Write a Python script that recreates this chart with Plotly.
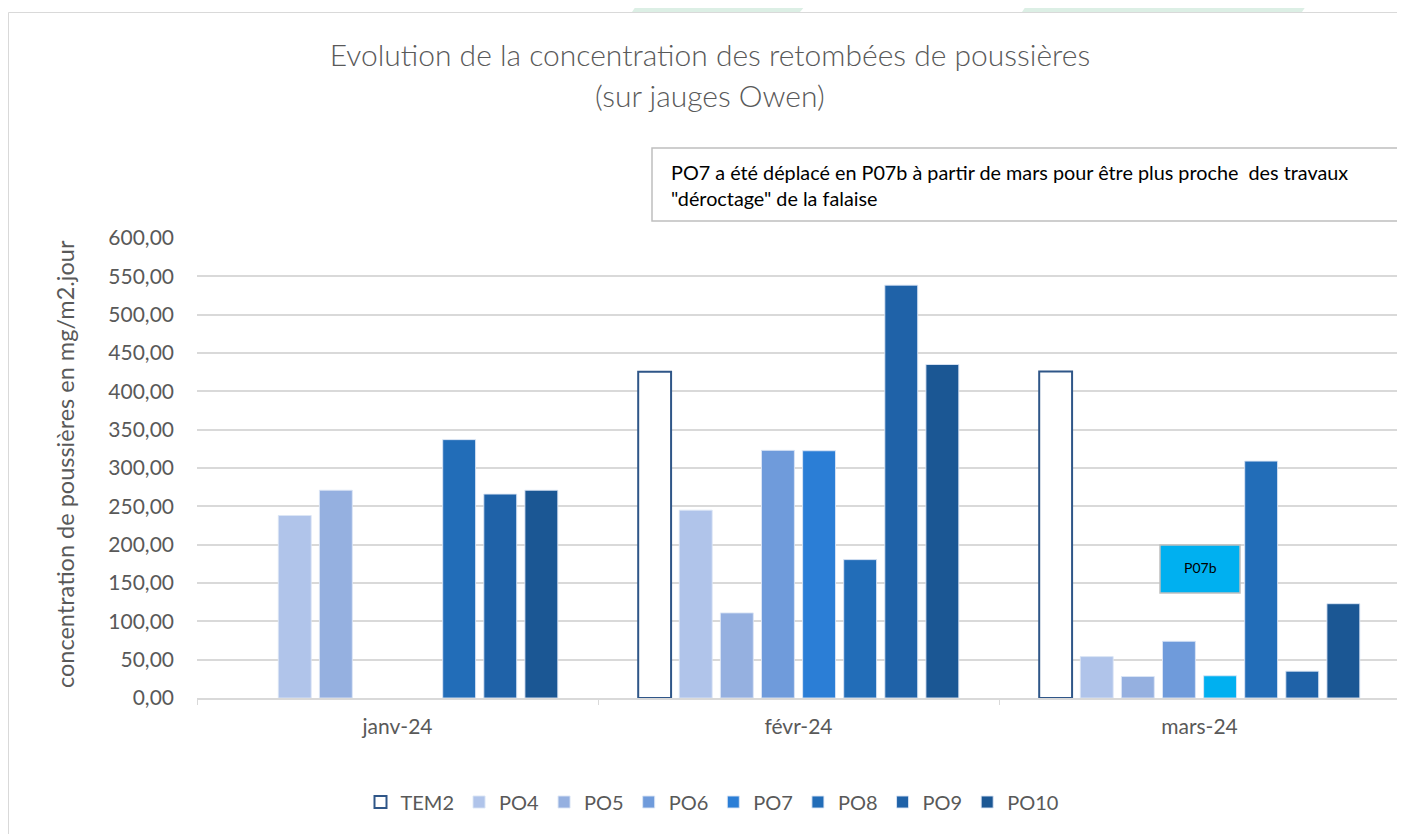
import plotly.graph_objects as go

# ---- data ----
months = ["janv-24", "févr-24", "mars-24"]
series_names = ["TEM2", "PO4", "PO5", "PO6", "PO7", "PO8", "PO9", "PO10"]
tem2 = [None, 425.5, 426.0]
po4 = [238.0, 245.0, 54.0]
po5 = [271.0, 111.0, 28.0]
po6 = [None, 323.0, 74.0]
po7 = [None, 322.5, 29.0]
po8 = [337.0, 180.5, 309.0]
po9 = [266.0, 538.5, 35.0]
po10 = [271.0, 435.0, 123.0]
y_ticks = [0, 50, 100, 150, 200, 250, 300, 350, 400, 450, 500, 550, 600]

values = [tem2, po4, po5, po6, po7, po8, po9, po10]
colors = ["#FFFFFF", "#B0C4EA", "#95B0E0", "#6F9BDB", "#2B7ED6", "#226DB8", "#1F62A8", "#1B5794"]
po7_colors = ["#2B7ED6", "#2B7ED6", "#00B0F0"]

# page is offset by the 8px body margin
OFF = 8
W, H = 1405 - OFF, 834 - OFF
ML, MR, MT, MB = 197 - OFF, 5, 238 - OFF, 136
PW, PH = W - ML - MR, H - MT - MB


def px(x):
    return (x - OFF - ML) / PW


def py(y):
    return (H - MB - (y - OFF)) / PH


GREY = "#595959"
FONT = "Lato"

fig = go.Figure()
for name, vals, col in zip(series_names, values, colors):
    if name == "TEM2":
        marker = dict(color="#FFFFFF", line=dict(color="#2F5688", width=2))
    elif name == "PO7":
        marker = dict(color=po7_colors, line=dict(color="rgba(220,230,245,0.9)", width=1))
    else:
        marker = dict(color=col, line=dict(color="rgba(220,230,245,0.9)", width=1))
    fig.add_trace(go.Bar(name=name, x=months, y=vals, marker=marker))

shapes = []
mint = "#DCEFE5"
shapes.append(dict(type="path", xref="paper", yref="paper", layer="below",
                   path=f"M {px(640)},{py(0)} L {px(810)},{py(0)} L {px(800)},{py(12)} L {px(632)},{py(12)} Z",
                   fillcolor=mint, line=dict(width=0)))
shapes.append(dict(type="path", xref="paper", yref="paper", layer="below",
                   path=f"M {px(1030)},{py(0)} L {px(1310)},{py(0)} L {px(1302)},{py(12)} L {px(1022)},{py(12)} Z",
                   fillcolor=mint, line=dict(width=0)))
# chart frame
shapes.append(dict(type="rect", xref="paper", yref="paper", layer="below",
                   x0=px(8.5), x1=px(1412), y0=py(845), y1=py(12.5),
                   fillcolor="rgba(0,0,0,0)", line=dict(color="#D9D9D9", width=1)))
# note box
shapes.append(dict(type="rect", xref="paper", yref="paper", layer="above",
                   x0=px(652), x1=px(1412), y0=py(221), y1=py(148),
                   fillcolor="#FFFFFF", line=dict(color="#BFBFBF", width=1.5)))
# P07b box
shapes.append(dict(type="rect", xref="paper", yref="paper", layer="above",
                   x0=px(1160), x1=px(1240), y0=py(593), y1=py(545),
                   fillcolor="#00B0F0", line=dict(color="#BFBFBF", width=1.5)))

annotations = [
    dict(text="(sur jauges Owen)", xref="paper", yref="paper", x=px(710), y=py(95),
         xanchor="center", yanchor="middle", showarrow=False,
         font=dict(family=FONT, size=30, color=GREY, weight=300)),
    dict(text="PO7 a été déplacé en P07b à partir de mars pour être plus proche  des travaux<br>\"déroctage\" de la falaise",
         xref="paper", yref="paper", x=px(669), y=py(185), xanchor="left", yanchor="middle",
         align="left", showarrow=False, font=dict(family=FONT, size=19.8, color="#000000")),
    dict(text="P07b", xref="paper", yref="paper", x=px(1200), y=py(567),
         xanchor="center", yanchor="middle", showarrow=False,
         font=dict(family=FONT, size=14, color="#000000")),
    dict(text="concentration de poussières en mg/m2.jour", xref="paper", yref="paper",
         x=px(65), y=py(464), xanchor="center", yanchor="middle", textangle=-90,
         showarrow=False, font=dict(family=FONT, size=23.5, color=GREY)),
]

fig.update_layout(
    width=W, height=H,
    margin=dict(l=ML, r=MR, t=MT, b=MB),
    paper_bgcolor="#FFFFFF", plot_bgcolor="#FFFFFF",
    separators=", ",
    barmode="group", bargap=0.18, bargroupgap=0.2,
    title=dict(text="Evolution de la concentration des retombées de poussières",
               x=(710 - OFF) / W, xanchor="center", xref="container",
               y=1 - (55 - OFF) / H, yanchor="middle", yref="container",
               font=dict(family=FONT, size=30, color=GREY, weight=300)),
    font=dict(family=FONT, color=GREY),
    showlegend=True,
    legend=dict(orientation="h", x=px(712), xanchor="center", y=py(802), yanchor="middle",
                font=dict(family=FONT, size=20, color=GREY), bgcolor="rgba(0,0,0,0)",
                traceorder="normal", itemwidth=30),
    xaxis=dict(type="category", showgrid=False, showline=True, linecolor="#D9D9D9", linewidth=1.5,
               ticks="outside", tickson="boundaries", ticklen=5, tickcolor="#D9D9D9",
               tickfont=dict(family=FONT, size=21, color=GREY), ticklabelstandoff=9),
    yaxis=dict(range=[0, 600], tickvals=y_ticks, tickformat=".2f", showgrid=True,
               gridcolor="#D9D9D9", gridwidth=1.5, zeroline=False, showline=False,
               tickfont=dict(family=FONT, size=21, color=GREY), ticklabelstandoff=22),
    shapes=shapes,
    annotations=annotations,
)

fig.write_html("out.html")
